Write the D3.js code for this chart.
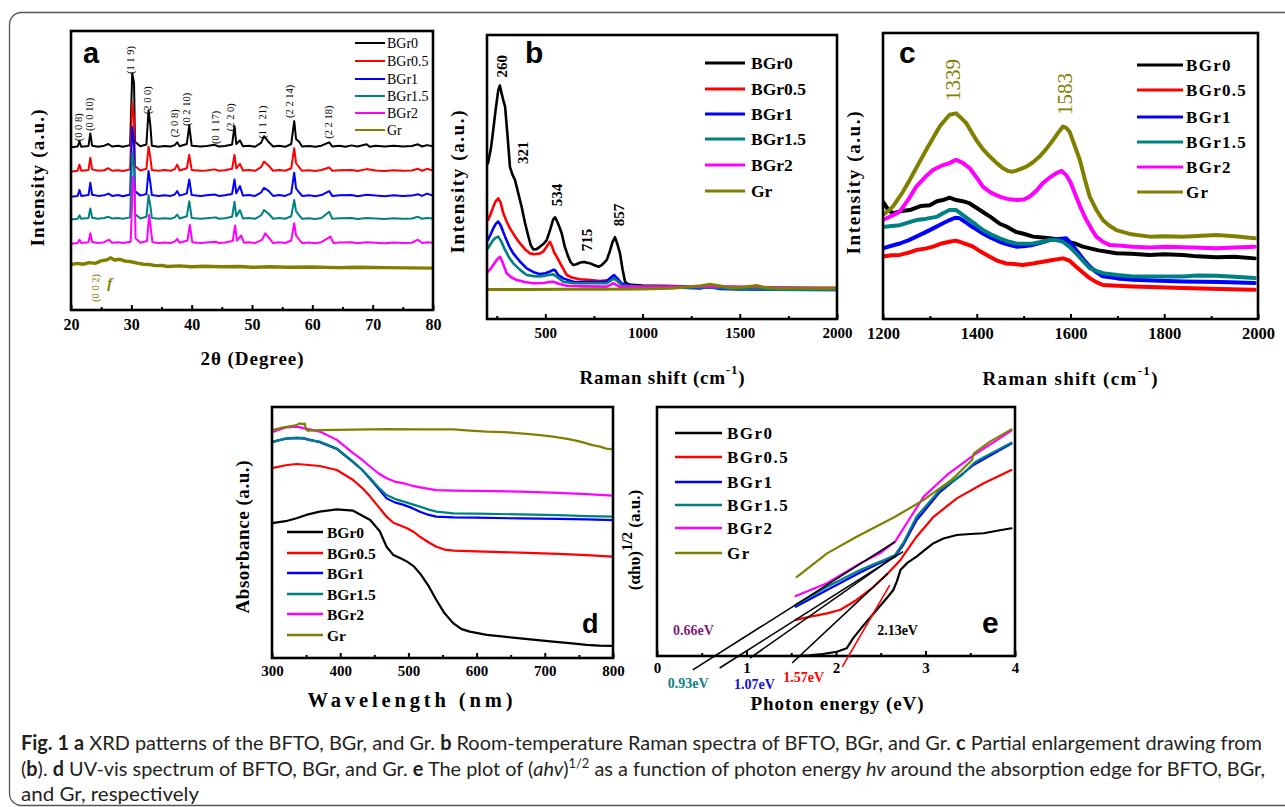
<!DOCTYPE html>
<html><head><meta charset="utf-8">
<script src="https://cdn.jsdelivr.net/npm/d3@7"></script>
<style>body{margin:0;background:#fff}</style>
</head><body>
<script>
// ---------------- DATA ----------------
const seriesNames = ["BGr0","BGr0.5","BGr1","BGr1.5","BGr2","Gr"];
const seriesColors = ["#000000","#ff0000","#0000ff","#008080","#ff00ff","#808000"];

// (a) XRD : [2theta, intensity above own baseline]; offsets stack the patterns
const xrdTicks = [20,30,40,50,60,70,80];
const xrdMinor = [25,35,45,55,65,75];
const xrdOffsets = [58.3,49.6,40.6,32.4,23.7,15.1];
const xrdBGr0 = [[20,0],[21.1,0.3],[21.4,2.2],[21.7,0.2],[22.9,0.5],[23.2,5],[23.5,0.6],[24.5,0.2],[25.5,0.6],[26.2,1.2],[26.8,0.3],[27.8,0.6],[28.6,0.2],[29.8,0.8],[30.15,26.6],[30.45,23],[30.6,2],[31.5,0.4],[32.5,1.0],[32.85,13.3],[33.15,8],[33.4,0.6],[34.5,0.2],[35.5,0.5],[36.5,0.3],[37.2,0.8],[37.6,1.8],[38.0,0.4],[39.2,1.2],[39.6,7.9],[40.0,0.6],[41.5,0.3],[42.5,0.5],[43.8,0.9],[44.5,0.3],[45.5,0.5],[46.7,1.0],[47.1,7.6],[47.4,1.2],[48.0,2.5],[48.5,0.4],[49.5,0.6],[50.5,0.2],[51.5,1.6],[52.0,4.0],[52.8,1.8],[53.5,0.3],[54.5,0.6],[55.5,0.2],[56.5,1.2],[57.0,9.4],[57.3,3],[57.8,2],[58.3,0.3],[59.5,0.5],[60.5,0.2],[61.5,0.6],[62.8,1.8],[63.3,0.3],[64.5,0.6],[65.5,0.2],[66.5,0.7],[67.5,0.3],[69.0,1.1],[69.5,0.2],[70.5,0.6],[72,0.3],[73.5,0.6],[75,0.3],[76.5,0.5],[77.5,1.1],[78.2,0.3],[79,0.8],[80,0.4]];
const xrdBGr05 = [[20,0],[21.1,0.3],[21.4,2.5],[21.7,0.3],[22.9,0.6],[23.2,5],[23.5,0.8],[24.5,0.3],[25.5,0.5],[26.2,1.2],[26.8,0.3],[27.8,0.5],[28.6,0.2],[29.8,0.8],[30.15,24.5],[30.45,19],[30.6,2],[31.5,0.4],[32.5,1],[32.85,9],[33.15,5],[33.4,0.6],[34.5,0.3],[35.5,0.6],[36.5,0.3],[37.2,0.9],[37.6,2.5],[38,0.4],[39.2,1.2],[39.6,6],[40,0.6],[41.5,0.3],[42.5,0.4],[43.8,0.8],[44.5,0.3],[45.5,0.5],[46.7,1],[47.1,6],[47.4,1.2],[48,2.8],[48.5,0.4],[49.5,0.6],[50.5,0.3],[51.5,1.6],[52,3.6],[52.8,2],[53.5,0.3],[54.5,0.6],[55.5,0.3],[56.5,1.2],[57,8.4],[57.3,3],[57.8,1.6],[58.3,0.3],[59.5,0.5],[60.5,0.2],[61.5,0.6],[62.8,1.5],[63.3,0.3],[64.5,0.5],[66.5,0.6],[67.5,0.2],[69,0.9],[70.5,0.4],[72,0.2],[73.5,0.5],[75,0.3],[76.5,0.4],[77.5,1],[78.2,0.3],[79,1],[80,0.4]];
const xrdBGr1 = [[20,0],[21.1,0.3],[21.4,2.4],[21.7,0.3],[22.9,0.6],[23.2,5],[23.5,0.7],[24.5,0.3],[25.5,0.5],[26.2,1.1],[26.8,0.3],[27.8,0.6],[28.6,0.2],[29.8,0.8],[30.15,25],[30.45,19],[30.6,2],[31.5,0.4],[32.5,1],[32.85,9.2],[33.15,5],[33.4,0.6],[34.5,0.3],[35.5,0.5],[36.5,0.3],[37.2,0.8],[37.6,2],[38,0.4],[39.2,1.2],[39.6,6.2],[40,0.6],[41.5,0.3],[42.5,0.5],[43.8,0.8],[44.5,0.3],[45.5,0.5],[46.7,1],[47.1,6.2],[47.4,1.2],[48,3.8],[48.5,0.4],[49.5,0.6],[50.5,0.3],[51.5,1.5],[52,3.2],[52.8,2],[53.5,0.3],[54.5,0.6],[55.5,0.3],[56.5,1.2],[57,8.6],[57.3,3],[57.8,1.6],[58.3,0.3],[59.5,0.5],[60.5,0.2],[61.5,0.6],[62.8,2],[63.3,0.3],[64.5,0.5],[66.5,0.6],[67.5,0.2],[69,0.7],[70.5,0.4],[72,0.2],[73.5,0.5],[75,0.3],[76.5,0.4],[77.5,0.9],[78.2,0.3],[79,1.1],[80,0.4]];
const xrdBGr15 = [[20,0],[21.1,0.3],[21.4,1.5],[21.7,0.3],[22.9,0.6],[23.2,4],[23.5,0.7],[24.5,0.3],[25.5,0.6],[26.2,1],[26.8,0.4],[27.8,0.6],[28.6,0.3],[29.8,0.8],[30.15,24],[30.45,19],[30.6,2],[31.5,0.4],[32.5,1],[32.85,8.8],[33.15,5],[33.4,0.6],[34.5,0.3],[35.5,0.5],[36.5,0.3],[37.2,0.8],[37.6,1.8],[38,0.4],[39.2,1.2],[39.6,6.6],[40,0.6],[41.5,0.3],[42.5,0.5],[44,0.8],[44.5,0.3],[45.5,0.5],[46.7,1],[47.1,6.4],[47.4,1.2],[48,3.4],[48.5,0.4],[49.5,0.6],[50.5,0.3],[51.5,1.5],[52,3.4],[52.8,2],[53.5,0.3],[54.5,0.6],[55.5,0.3],[56.5,1.2],[57,7],[57.3,3],[57.8,1.6],[58.3,0.3],[59.5,0.5],[60.5,0.2],[61.5,0.6],[62.8,2.8],[63.3,0.3],[64.5,0.5],[66.5,0.6],[67.5,0.2],[69,0.6],[70.5,0.4],[72,0.2],[73.5,0.5],[75,0.3],[76.5,0.4],[77.5,1],[78.2,0.3],[79,0.6],[80,0.4]];
const xrdBGr2 = [[20,0],[21.1,0.3],[21.4,1.5],[21.7,0.3],[22.9,0.6],[23.2,3.8],[23.5,0.7],[24.5,0.3],[25.5,0.6],[26.3,1.5],[26.8,0.4],[27.8,0.6],[28.6,0.3],[29.9,0.8],[30.25,24],[30.55,19],[30.7,2],[31.5,0.4],[32.6,1],[32.95,10.4],[33.25,5],[33.5,0.6],[34.5,0.3],[35.5,0.5],[36.5,0.3],[37.2,0.8],[37.6,1.8],[38,0.4],[39.3,1.2],[39.7,6.8],[40.1,0.6],[41.5,0.3],[42.5,0.5],[44,0.8],[44.5,0.3],[45.5,0.5],[46.8,1],[47.2,6.6],[47.5,1.2],[48.2,3],[48.7,0.4],[49.5,0.6],[50.5,0.3],[51.7,1.5],[52.2,3.8],[52.9,2],[53.5,0.3],[54.5,0.6],[55.5,0.3],[56.5,1.2],[57,7.4],[57.3,3],[57.8,1.6],[58.3,0.3],[59.5,0.5],[60.5,0.2],[61.5,0.6],[63,2.6],[63.5,0.3],[64.5,0.5],[66.5,0.6],[67.5,0.2],[69,0.6],[70.5,0.4],[72,0.2],[73.5,0.5],[75,0.3],[76.5,0.4],[77.5,1.5],[78.2,0.3],[79,0.6],[80,0.4]];
const xrdGr = [[20,1.2],[21,1.6],[22,1.3],[23,1.9],[24,1.6],[25,2.5],[26,2.9],[26.6,3.6],[27.2,2.8],[28,3.1],[29,2.4],[30,2.2],[31,1.7],[32,1.3],[33,1.2],[34,0.8],[35,0.9],[36,0.5],[38,0.7],[40,0.4],[42,0.6],[45,0.4],[48,0.5],[50,0.2],[53,0.4],[56,0.2],[60,0.3],[64,0.1],[68,0.2],[72,0.1],[76,0.0],[80,-0.1]];
const xrdPeakLabels = ["(0 0 8)","(0 0 10)","(1 1 9)","(2 0 0)","(2 0 8)","(0 2 10)","(0 1 17)","(2 2 0)","(1 1 21)","(2 2 14)","(2 2 18)"];
const xrdPeakLabelX = [21.2,23.1,29.8,32.6,37.1,39.2,43.9,46.4,51.7,56.3,62.6];
const xrdPeakLabelY = [65.5,70.1,89.6,75.2,66.9,71.9,65.5,69.1,67.3,74.8,67.3];

// (b) Raman : [shift cm-1, intensity]
const ramanTicks = [500,1000,1500,2000];
const ramanMinor = [250,750,1250,1750];
const ramanBGr0 = [[205,54.8],[220,60],[232,66.5],[245,74],[258,80.6],[266,82.2],[275,79.5],[284,77],[293,74.8],[305,65],[318,53.6],[330,51],[344,48.9],[360,44.5],[378,39.5],[395,34],[413,29],[425,26],[438,24.5],[455,24.6],[473,25.5],[490,26.4],[507,27.8],[525,31.5],[540,35],[550,35.8],[560,34.5],[572,32.5],[584,30.2],[600,25.5],[618,21.9],[630,20],[644,19],[660,19.3],[680,19.9],[700,20.1],[715,19.8],[730,19.6],[750,19],[773,18.4],[790,19],[805,20],[816,20.8],[830,23.5],[845,27],[858,28.8],[870,26.5],[884,23.1],[897,17.5],[910,13.1],[925,12.3],[944,12.0],[1000,11.8],[1073,11.7],[1150,11.6],[1244,11.4],[1350,11.2],[1501,11.0],[1650,10.9],[1800,10.8],[2000,10.8]];
const ramanBGr05 = [[205,34.9],[220,37.2],[232,39.5],[245,41.5],[258,42.5],[270,41],[284,37.2],[300,34.5],[318,31.9],[345,29],[370,26.6],[395,24.6],[421,23.1],[445,22.8],[473,23.1],[490,23.8],[507,25.5],[517,26.6],[524,27.2],[535,25.5],[545,23.5],[559,21.9],[585,18.5],[610,15.5],[640,14.5],[678,14],[720,13.8],[781,13.4],[815,13.6],[835,14.2],[850,14.9],[865,14.2],[880,13],[893,12.2],[940,11.7],[987,11.4],[1200,11.2],[1300,11.1],[1350,11.4],[1400,11.0],[1600,11.1],[1700,10.9],[2000,11.0]];
const ramanBGr1 = [[205,27.8],[220,30],[232,31.9],[245,33.5],[258,34.3],[270,33],[293,29],[315,25.5],[335,23.1],[370,20.2],[404,17.8],[440,16.5],[473,15.8],[500,16.1],[524,16.7],[540,17.3],[550,17.2],[565,15.6],[592,14.3],[644,13.1],[700,13.0],[770,13.0],[816,13.2],[840,14.8],[853,15.5],[868,14.5],[880,13.5],[893,12.5],[940,11.8],[987,11.4],[1200,11.0],[1300,10.8],[1340,11.3],[1400,10.6],[1501,10.4],[1650,10.3],[2000,10.2]];
const ramanBGr15 = [[205,24.9],[220,26.6],[232,27.8],[245,28.6],[258,29.0],[272,27.5],[293,24.3],[315,21.5],[335,19.6],[370,17.3],[404,15.5],[440,15.1],[473,15.0],[510,15.4],[541,15.7],[560,14.8],[592,13.1],[640,12.7],[678,12.6],[760,12.6],[816,12.6],[840,13.7],[853,14.3],[868,13.5],[893,11.9],[950,11.5],[1200,11],[1340,11.2],[1500,10.5],[1700,10.3],[2000,10.2]];
const ramanBGr2 = [[205,16.7],[220,17.8],[232,19],[250,20.8],[267,21.9],[280,20],[301,16.1],[325,14.7],[353,13.7],[395,13],[438,12.6],[490,12.7],[520,13.0],[541,13.1],[570,12.4],[610,11.7],[700,11.5],[816,11.4],[835,12],[850,12.6],[865,12],[880,11.4],[1000,11.3],[1340,11.5],[1600,11.3],[2000,10.8]];
const ramanGr = [[205,10.4],[400,10.4],[600,10.5],[800,10.5],[1000,10.6],[1150,10.8],[1244,11.4],[1300,11.7],[1347,12.2],[1400,11.6],[1450,11.0],[1520,11.2],[1587,11.8],[1620,11.2],[1700,10.8],[2000,10.8]];
const ramanPeakLabels = ["260","321","534","715","857"];
const ramanPeakLabelX = [277,385,559,713,880];
const ramanPeakLabelY = [89,58.5,43.7,27.8,36.6];

// (c) Raman zoom 1200-2000
const zoomTicks = [1200,1400,1600,1800,2000];
const zoomMinor = [1300,1500,1700,1900];
const zoomBGr0 = [[1200,41.0],[1210,38.5],[1221,36.9],[1240,37.8],[1257,38.1],[1280,39.5],[1300,39.8],[1315,41.2],[1328,41.6],[1342,42.4],[1356,41.6],[1370,41.2],[1385,40.4],[1400,38.8],[1413,37.4],[1430,35.6],[1449,33.3],[1465,32.2],[1484,30.4],[1500,29.8],[1520,28.8],[1540,28.5],[1555,28.2],[1575,27.8],[1591,27.0],[1610,26.4],[1626,25.3],[1660,24.0],[1698,23.0],[1730,22.8],[1769,22.4],[1800,22.6],[1840,22.4],[1870,21.9],[1911,21.6],[1950,21.8],[1993,21.2]];
const zoomBGr05 = [[1200,21.8],[1218,22.3],[1236,22.4],[1255,23.2],[1271,24.1],[1290,24.6],[1307,25.3],[1325,26.4],[1342,27.0],[1354,27.4],[1364,27.0],[1378,26.2],[1392,25.3],[1410,23.4],[1428,21.8],[1445,20.3],[1463,19.4],[1480,19.2],[1498,18.9],[1520,19.4],[1541,20.0],[1562,20.6],[1584,21.2],[1598,20.4],[1612,18.3],[1627,16.2],[1641,14.3],[1655,12.9],[1669,11.9],[1700,11.6],[1733,11.4],[1790,11.1],[1840,10.8],[1920,10.5],[1993,10.2]];
const zoomBGr1 = [[1200,24.7],[1218,25.6],[1236,26.4],[1255,27.6],[1271,28.8],[1290,30.3],[1307,31.7],[1325,33.2],[1342,34.6],[1354,35.4],[1364,35.2],[1375,34.0],[1385,32.8],[1400,31.3],[1413,29.9],[1430,28.4],[1449,27.0],[1465,26.1],[1484,25.3],[1500,25.4],[1520,25.9],[1540,26.8],[1555,27.6],[1575,28.0],[1591,28.2],[1600,26.6],[1612,24.1],[1627,21.0],[1641,18.3],[1655,16.4],[1669,14.9],[1700,14.2],[1733,13.7],[1790,13.4],[1840,13.1],[1920,12.9],[1993,12.6]];
const zoomBGr15 = [[1200,32.2],[1218,32.5],[1236,32.8],[1255,33.8],[1271,34.6],[1290,35.0],[1314,35.7],[1328,37.0],[1342,38.1],[1356,38.1],[1370,36.4],[1385,34.6],[1400,32.8],[1413,31.1],[1430,29.6],[1449,28.2],[1465,27.2],[1484,26.4],[1500,26.3],[1520,26.4],[1540,27.0],[1555,27.6],[1570,27.6],[1584,27.0],[1598,25.2],[1612,23.0],[1627,20.2],[1641,17.8],[1655,16.8],[1669,16.0],[1700,15.4],[1733,14.9],[1790,14.9],[1840,14.9],[1870,15.2],[1911,15.1],[1950,14.8],[1993,14.3]];
const zoomBGr2 = [[1200,34.6],[1218,36.0],[1236,37.6],[1255,42.0],[1271,46.3],[1290,49.6],[1307,52.2],[1325,53.6],[1342,54.5],[1356,55.7],[1370,54.6],[1385,52.7],[1400,49.4],[1413,46.3],[1430,44.2],[1449,42.8],[1465,42.0],[1484,41.6],[1500,41.8],[1513,42.8],[1527,44.8],[1541,47.5],[1555,49.4],[1570,51.0],[1581,51.8],[1591,50.3],[1600,47.8],[1612,42.8],[1623,38.4],[1634,34.6],[1645,31.4],[1655,28.8],[1669,27.0],[1683,25.9],[1710,25.6],[1733,25.3],[1770,25.0],[1804,25.3],[1860,25.0],[1911,24.7],[1950,25.0],[1993,25.3]];
const zoomGr = [[1200,36.4],[1210,37.6],[1221,39.3],[1240,43.8],[1257,48.6],[1275,54.0],[1292,59.1],[1307,63.4],[1321,67.3],[1332,69.5],[1342,71.4],[1356,71.9],[1366,70.4],[1378,68.4],[1388,65.6],[1399,62.6],[1413,59.4],[1428,56.8],[1442,54.6],[1456,52.7],[1466,51.8],[1477,51.5],[1490,52.2],[1506,53.3],[1520,54.8],[1534,56.8],[1548,59.4],[1563,62.6],[1575,65.4],[1584,67.3],[1591,66.8],[1598,65.5],[1608,61.0],[1620,55.6],[1630,49.2],[1641,42.8],[1655,38.2],[1669,34.6],[1683,32.6],[1698,31.1],[1730,29.6],[1769,28.8],[1800,28.9],[1840,28.8],[1870,29.0],[1911,29.4],[1950,28.9],[1993,28.2]];
const zoomPeakLabels = ["1339","1583"];
const zoomPeakLabelX = [1349,1588];
const zoomPeakLabelY = [83.6,78.7];

// (d) UV-vis absorbance : [wavelength nm, absorbance]
const uvTicks = [300,400,500,600,700,800];
const uvMinor = [350,450,550,650,750];
const uvBGr0 = [[300,53.7],[320,54.5],[336,55.7],[350,57],[370,58.3],[395,59.2],[419,58.7],[444,55],[458,50.5],[468,44.3],[478,41],[490,39.5],[498,38.4],[508,36.5],[517,33.7],[530,28.5],[541,23.1],[553,17.8],[566,13.8],[578,11.5],[590,10.5],[615,9.2],[640,8.5],[664,7.8],[690,7.1],[712,6.5],[740,5.8],[761,5.2],[780,4.9],[800,4.8]];
const uvBGr05 = [[300,75.6],[320,76.8],[336,77.3],[350,77],[370,76.5],[395,74.9],[419,70.9],[432,67.8],[444,64.3],[456,60.3],[468,56.3],[478,53.9],[490,52.6],[498,51.7],[508,50.2],[517,48.3],[530,46],[541,44.3],[553,43.2],[566,42.8],[600,42.5],[664,42],[720,41.5],[761,41],[800,40.4]];
const uvBGr1 = [[300,86],[320,87.4],[336,87.6],[348,87.4],[370,86],[395,83.3],[419,78],[432,75],[444,71.3],[456,67.5],[468,63.6],[480,62],[493,61],[505,59.8],[517,58.3],[530,57],[541,56.3],[566,56],[600,55.9],[664,55.6],[720,55.4],[761,55.2],[800,54.9]];
const uvBGr15 = [[300,86.2],[320,87.4],[336,87.8],[348,87.6],[352,86.9],[370,86.2],[395,83.5],[419,78.2],[432,75],[444,71.6],[456,68],[468,64.9],[480,63.4],[493,62.3],[505,61.3],[517,60.3],[530,59.1],[541,58.3],[566,57.6],[600,57.5],[664,57.2],[720,56.9],[761,56.5],[800,56.3]];
const uvBGr2 = [[300,90],[321,91.9],[336,92.2],[348,91.5],[370,90.2],[395,86.9],[419,81.6],[432,79],[444,76.2],[456,73.6],[468,71.6],[480,70.3],[493,69.6],[505,68.7],[517,68],[541,66.9],[566,66.7],[600,66.6],[664,66.3],[720,65.8],[761,65.3],[800,64.7]];
const uvGr = [[300,90.8],[315,91.8],[326,92.3],[336,92.8],[340,93.5],[345,93.2],[348,93.4],[350,91],[352,90.6],[370,90.8],[420,91],[468,91.2],[520,91.1],[566,91.1],[590,90.6],[615,90.2],[640,90],[664,89.5],[690,88.9],[712,88.2],[735,87.2],[752,86.2],[770,84.8],[781,84.2],[790,83.4],[800,83.1]];

// (e) Tauc plot : [photon energy eV, (ahv)^1/2]
const taucTicks = [0,1,2,3,4];
const taucMinor = [0.5,1.5,2.5,3.5];
const taucBGr0 = [[1.56,0],[1.7,0.3],[1.85,0.8],[2.01,1.7],[2.12,3.1],[2.19,7.1],[2.3,12],[2.42,17.1],[2.58,23.8],[2.64,26.5],[2.68,30],[2.72,34.5],[2.8,37.5],[2.9,39.9],[3.0,42.8],[3.09,45.3],[3.2,47.2],[3.35,48.6],[3.5,49],[3.65,49.3],[3.8,50.3],[3.96,51.3]];
const taucBGr05 = [[1.55,14.5],[1.7,15.7],[1.9,17.1],[2.05,18.6],[2.23,22.5],[2.42,27.8],[2.58,33.2],[2.72,38.6],[2.9,47.9],[3.09,55.9],[3.35,63.3],[3.65,69.4],[3.96,74.7]];
const taucBGr1 = [[1.55,19.8],[1.9,26.5],[2.27,33.5],[2.5,37.5],[2.66,40],[2.75,44.5],[2.9,54.5],[3.16,65.8],[3.54,76.8],[3.96,85.3]];
const taucBGr15 = [[1.55,20.5],[1.9,27.8],[2.27,34.5],[2.5,38],[2.66,40.6],[2.75,45.3],[2.9,55.9],[3.16,66.7],[3.4,72.5],[3.54,77.4],[3.6,78.8],[3.96,85.7]];
const taucBGr2 = [[1.55,24.1],[1.9,29.2],[2.27,37.2],[2.5,41.5],[2.66,45.9],[2.79,53.3],[2.98,64],[3.24,72.7],[3.54,80.7],[3.96,90.5]];
const taucGr = [[1.56,31.7],[1.9,41.2],[2.23,47.9],[2.66,55.9],[2.98,62.7],[3.29,70.7],[3.52,78.7],[3.54,81.4],[3.72,86.1],[3.96,91]];
// tangent (extrapolation) lines
const tangentX1 = [0.40,0.70,1.04,1.51,2.07];
const tangentY1 = [-5.6,-4.8,-0.8,-2.8,-4.4];
const tangentX2 = [2.66,2.75,2.68,2.58,2.60];
const tangentY2 = [45.9,41.9,40.6,33.2,28.5];
const tangentColors = ["#000000","#000000","#000000","#000000","#ff0000"];
const gapLabels = ["0.66eV","2.13eV","0.93eV","1.07eV","1.57eV"];
const gapLabelX = [0.18,2.46,0.12,0.86,1.41];
const gapLabelY = [10.2,10.2,-11.0,-11.4,-8.8];
const gapLabelColors = ["#7a1f7a","#000000","#108080","#1010e0","#ff0000"];

// ---------------- DRAWING ----------------
const SERIF = "'Liberation Serif','Times New Roman',serif";
const SANS = "'Liberation Sans',Arial,sans-serif";
const svg = d3.select("body").append("svg").attr("width",1285).attr("height",807);

// outer rounded border
svg.append("rect").attr("x",9.5).attr("y",12.5).attr("width",1300).attr("height",793)
  .attr("rx",12).attr("fill","none").attr("stroke","#555").attr("stroke-width",1.3);

function panel(p){
  const g = svg.append("g");
  const x = d3.scaleLinear().domain(p.xDomain).range([p.left,p.right]);
  const y = d3.scaleLinear().domain([0,100]).range([p.bottom,p.top]);
  const cid = "clip_"+p.id;
  svg.append("clipPath").attr("id",cid).append("rect")
    .attr("x",p.left).attr("y",p.top).attr("width",p.right-p.left).attr("height",p.bottom-p.top);
  const line = d3.line().x(d=>x(d[0])).y(d=>y(d[1]));
  const lg = g.append("g").attr("clip-path",`url(#${cid})`);
  p.series.forEach((s,i)=>{
    lg.append("path").attr("d",line(s)).attr("fill","none")
      .attr("stroke",seriesColors[i]).attr("stroke-width",(p.lwArr?p.lwArr[i]:p.lw))
      .attr("stroke-linejoin","round").attr("stroke-linecap","round");
  });
  const ax = d3.axisBottom(x).tickValues(p.ticks).tickSize(-5).tickPadding(p.pad).tickFormat(d=>String(d));
  const axg = g.append("g").attr("transform",`translate(0,${p.bottom})`).call(ax);
  axg.select(".domain").remove();
  axg.selectAll("line").attr("stroke","#000").attr("stroke-width",2);
  axg.selectAll("text").attr("font-family",SERIF).attr("font-weight","bold")
    .attr("font-size",p.tickFs).attr("fill","#000");
  const axm = d3.axisBottom(x).tickValues(p.minor).tickSize(-3).tickFormat("");
  const amg = g.append("g").attr("transform",`translate(0,${p.bottom})`).call(axm);
  amg.select(".domain").remove();
  amg.selectAll("line").attr("stroke","#000").attr("stroke-width",2);
  g.append("rect").attr("x",p.left).attr("y",p.top).attr("width",p.right-p.left).attr("height",p.bottom-p.top)
    .attr("fill","none").attr("stroke","#000").attr("stroke-width",2.6);
  const L = p.legend;
  seriesNames.forEach((n,i)=>{
    g.append("line").attr("x1",L.x1).attr("x2",L.x2).attr("y1",L.rows[i]).attr("y2",L.rows[i])
      .attr("stroke",seriesColors[i]).attr("stroke-width",L.lw);
    g.append("text").attr("x",L.tx).attr("y",L.rows[i]).attr("dominant-baseline","central")
      .attr("font-family",SERIF).attr("font-weight",L.bold?"bold":"normal").attr("font-size",L.fs)
      .attr("letter-spacing",L.ls||0).attr("fill","#000").text(n);
  });
  g.append("text").attr("x",p.letter[0]).attr("y",p.letter[1]).attr("font-family",SANS)
    .attr("font-weight","bold").attr("font-size",p.letter[2]).attr("fill","#000").text(p.id);
  return {g,x,y};
}

function rotText(g,cx,cy,txt,fs,len,opts){
  opts = opts||{};
  const t = g.append("text").attr("x",cx).attr("y",cy).attr("transform",`rotate(-90,${cx},${cy})`)
    .attr("text-anchor","middle").attr("dominant-baseline","central")
    .attr("font-family",SERIF).attr("font-weight",opts.weight||"bold").attr("font-size",fs)
    .attr("fill",opts.fill||"#000").text(txt);
  if(len) t.attr("textLength",len).attr("lengthAdjust","spacing");
  return t;
}
function hText(g,cx,cy,fs,len){
  const t = g.append("text").attr("x",cx).attr("y",cy).attr("text-anchor","middle")
    .attr("dominant-baseline","central").attr("font-family",SERIF).attr("font-weight","bold")
    .attr("font-size",fs).attr("fill","#000");
  if(len) t.attr("textLength",len).attr("lengthAdjust","spacing");
  return t;
}

// ---- (a) ----
const xrdSeries = [xrdBGr0,xrdBGr05,xrdBGr1,xrdBGr15,xrdBGr2,xrdGr].map((s,i)=>s.map(d=>[d[0],d[1]+xrdOffsets[i]]));
const A = panel({id:"a",xDomain:[20,80],left:71,right:433,top:31,bottom:310,series:xrdSeries,
  lwArr:[2,2,2,2,2,3.4],ticks:xrdTicks,minor:xrdMinor,pad:9,tickFs:16,
  legend:{x1:355,x2:385,tx:387,rows:[43,61,79,96,113,130],fs:14,bold:false,lw:2},letter:[83,63,29]});
xrdPeakLabels.forEach((t,i)=>rotText(A.g,A.x(xrdPeakLabelX[i]),A.y(xrdPeakLabelY[i]),t,10.5,null,{weight:"normal"}));
rotText(A.g,A.x(24.0),A.y(7.9),"(0 0 2)",10.5,null,{weight:"normal",fill:"#808000"});
A.g.append("text").attr("x",A.x(26.0)).attr("y",A.y(9.7)).attr("dominant-baseline","central")
  .attr("font-family",SERIF).attr("font-style","italic").attr("font-weight","bold").attr("font-size",15)
  .attr("fill","#808000").text("f");
hText(A.g,252,358,19,103).text("2θ (Degree)");
rotText(A.g,37,178,"Intensity (a.u.)",19,137);

// ---- (b) ----
const B = panel({id:"b",xDomain:[200,2000],left:487,right:837,top:35,bottom:319,
  series:[ramanBGr0,ramanBGr05,ramanBGr1,ramanBGr15,ramanBGr2,ramanGr],
  lwArr:[2.6,2.6,2.6,2.6,2.6,3],ticks:ramanTicks,minor:ramanMinor,pad:8,tickFs:15,
  legend:{x1:705,x2:745,tx:751,rows:[63,89,114,139,165,191],fs:17.5,bold:true,lw:3},letter:[525,63,30]});
ramanPeakLabels.forEach((t,i)=>rotText(B.g,B.x(ramanPeakLabelX[i]),B.y(ramanPeakLabelY[i]),t,15));
(function(){const t=hText(B.g,662,377,19,165);
  t.append("tspan").text("Raman shift (cm");
  t.append("tspan").attr("dy",-8).attr("font-size",13).text("-1");
  t.append("tspan").attr("dy",8).text(")");})();
rotText(B.g,457,182,"Intensity (a.u.)",19,143);

// ---- (c) ----
const C = panel({id:"c",xDomain:[1200,2000],left:883,right:1258,top:33,bottom:319,
  series:[zoomBGr0,zoomBGr05,zoomBGr1,zoomBGr15,zoomBGr2,zoomGr],
  lw:4,ticks:zoomTicks,minor:zoomMinor,pad:8,tickFs:16.5,
  legend:{x1:1137,x2:1183,tx:1186,rows:[65,90,117,142,167,192],fs:17,bold:true,ls:1.3,lw:3},letter:[899,63,30]});
zoomPeakLabels.forEach((t,i)=>rotText(C.g,C.x(zoomPeakLabelX[i]),C.y(zoomPeakLabelY[i]),t,21,null,{weight:"normal",fill:"#808000"}));
(function(){const t=hText(C.g,1070,378,19,175);
  t.append("tspan").text("Raman shift (cm");
  t.append("tspan").attr("dy",-8).attr("font-size",13).text("-1");
  t.append("tspan").attr("dy",8).text(")");})();
rotText(C.g,853,183,"Intensity (a.u.)",19,143);

// ---- (d) ----
const D = panel({id:"d",xDomain:[300,800],left:272,right:613,top:407,bottom:658,
  series:[uvBGr0,uvBGr05,uvBGr1,uvBGr15,uvBGr2,uvGr],
  lw:2.2,ticks:uvTicks,minor:uvMinor,pad:7,tickFs:15,
  legend:{x1:287,x2:323,tx:327,rows:[532,553,573,594,614,635],fs:15.5,bold:true,lw:2.6},letter:[582,633,27]});
hText(D.g,410,700,20.5,205).text("Wavelength (nm)");
rotText(D.g,242,537,"Absorbance (a.u.)",19,153);

// ---- (e) ----
const E = panel({id:"e",xDomain:[0,4],left:657,right:1015,top:407,bottom:656,
  series:[taucBGr0,taucBGr05,taucBGr1,taucBGr15,taucBGr2,taucGr],
  lw:2.2,ticks:taucTicks,minor:taucMinor,pad:6,tickFs:15,
  legend:{x1:675,x2:722,tx:727,rows:[433,457,482,505,528,553],fs:17,bold:true,ls:1.5,lw:2.6},letter:[982,633,30]});
tangentX1.forEach((v,i)=>{
  E.g.append("line").attr("x1",E.x(v)).attr("y1",E.y(tangentY1[i])).attr("x2",E.x(tangentX2[i])).attr("y2",E.y(tangentY2[i]))
    .attr("stroke",tangentColors[i]).attr("stroke-width",1.6);
});
gapLabels.forEach((t,i)=>{
  E.g.append("text").attr("x",E.x(gapLabelX[i])).attr("y",E.y(gapLabelY[i])).attr("dominant-baseline","central")
    .attr("font-family",SERIF).attr("font-weight","bold").attr("font-size",14).attr("fill",gapLabelColors[i]).text(t);
});
hText(E.g,837,703,19,173).text("Photon energy (eV)");
(function(){
  const cx=634, cy=540;
  const t = E.g.append("text").attr("x",cx).attr("y",cy).attr("transform",`rotate(-90,${cx},${cy})`)
    .attr("text-anchor","middle").attr("dominant-baseline","central").attr("font-family",SERIF)
    .attr("font-weight","bold").attr("font-size",17).attr("fill","#000");
  t.append("tspan").text("(αhυ)");
  t.append("tspan").attr("dy",-7).attr("font-size",15).text("1/2");
  t.append("tspan").attr("dy",7).text(" (a.u.)");
})();

// ---- caption ----
const cap = svg.append("g").attr("font-family","Lato, 'Open Sans', sans-serif").attr("font-size",20).attr("fill","#231f20");
function capLine(y,parts,len){
  const t = cap.append("text").attr("x",21).attr("y",y);
  if(len) t.attr("textLength",len).attr("lengthAdjust","spacingAndGlyphs");
  parts.forEach(([s,st])=>{
    const ts = t.append("tspan").text(s);
    if(st==="b") ts.attr("font-weight","bold");
    if(st==="i") ts.attr("font-style","italic");
    if(st==="sup") ts.attr("font-size",13).attr("dy",-8);
    if(st==="after") ts.attr("dy",8);
  });
}
capLine(750,[["Fig. 1","b"],[" "],["a","b"],[" XRD patterns of the BFTO, BGr, and Gr. "],["b","b"],[" Room-temperature Raman spectra of BFTO, BGr, and Gr. "],["c","b"],[" Partial enlargement drawing from"]],1241);
capLine(776,[["("],["b","b"],["). "],["d","b"],[" UV-vis spectrum of BFTO, BGr, and Gr. "],["e","b"],[" The plot of ("],["ahv","i"],[")"],["1/2","sup"],[" as a function of photon energy ","after"],["hv","i"],[" around the absorption edge for BFTO, BGr,"]],1244);
capLine(801,[["and Gr, respectively"]],178);
</script>
</body></html>
